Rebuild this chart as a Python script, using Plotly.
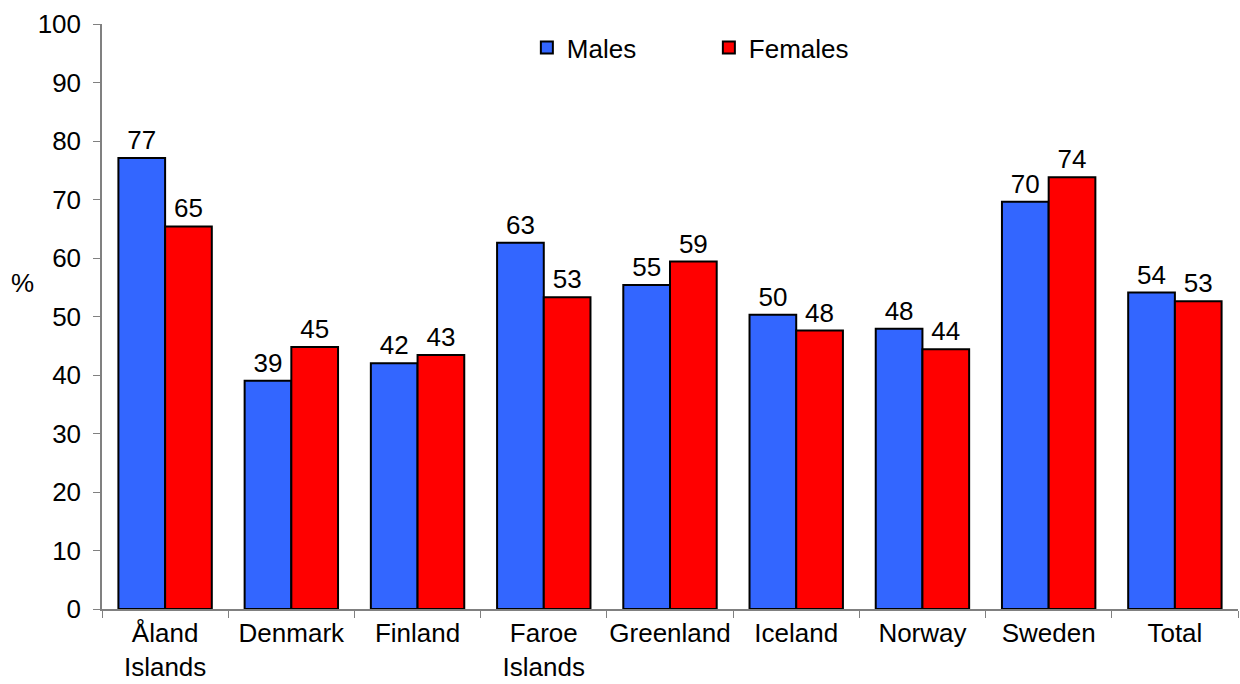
import plotly.graph_objects as go

categories = ["Åland<br>Islands", "Denmark", "Finland", "Faroe<br>Islands", "Greenland",
              "Iceland", "Norway", "Sweden", "Total"]
males = [77.1, 39.0, 42.0, 62.6, 55.4, 50.3, 47.9, 69.6, 54.1]
females = [65.4, 44.8, 43.4, 53.3, 59.4, 47.6, 44.4, 73.8, 52.6]

FONT = "Liberation Sans, Arial, sans-serif"
FS = 26

fig = go.Figure()
fig.add_trace(go.Bar(
    name="Males", x=categories, y=males,
    marker=dict(color="#3366FF", line=dict(color="black", width=2)),
    texttemplate="%{y:.0f}", textposition="outside",
    textfont=dict(family=FONT, size=FS, color="black"), cliponaxis=False,
))
fig.add_trace(go.Bar(
    name="Females", x=categories, y=females,
    marker=dict(color="#FF0000", line=dict(color="black", width=2)),
    texttemplate="%{y:.0f}", textposition="outside",
    textfont=dict(family=FONT, size=FS, color="black"), cliponaxis=False,
))

fig.update_layout(
    width=1240, height=684, autosize=False,
    margin=dict(l=102, r=2, t=24, b=75, autoexpand=False),
    paper_bgcolor="white", plot_bgcolor="white",
    font=dict(family=FONT, size=FS, color="black"),
    barmode="group", bargap=0.26, bargroupgap=0,
    showlegend=True,
    legend=dict(orientation="h", x=0.374, y=1.0, xanchor="left", yanchor="top",
                entrywidth=137, entrywidthmode="pixels", itemwidth=30,
                font=dict(family=FONT, size=FS, color="black"),
                bgcolor="rgba(0,0,0,0)"),
    xaxis=dict(showline=True, linecolor="#808080", linewidth=1.5,
               ticks="outside", tickson="boundaries", ticklen=7, tickcolor="#808080",
               ticklabelstandoff=0, tickangle=0, automargin=False,
               tickfont=dict(family=FONT, size=FS, color="black"), showgrid=False),
    yaxis=dict(range=[0, 100], dtick=10, showline=True, linecolor="#808080", linewidth=1.5,
               ticks="outside", ticklen=7, tickcolor="#808080", ticklabelstandoff=7,
               automargin=False,
               tickfont=dict(family=FONT, size=FS, color="black"), showgrid=False,
               zeroline=False),
    annotations=[dict(text="%", xref="paper", yref="paper", x=-0.07, y=0.557,
                      xanchor="center", yanchor="middle", showarrow=False,
                      font=dict(family=FONT, size=FS, color="black"))],
)

fig.write_html("out.html", config={"displayModeBar": False},
               post_script="document.body.style.margin='0';")
